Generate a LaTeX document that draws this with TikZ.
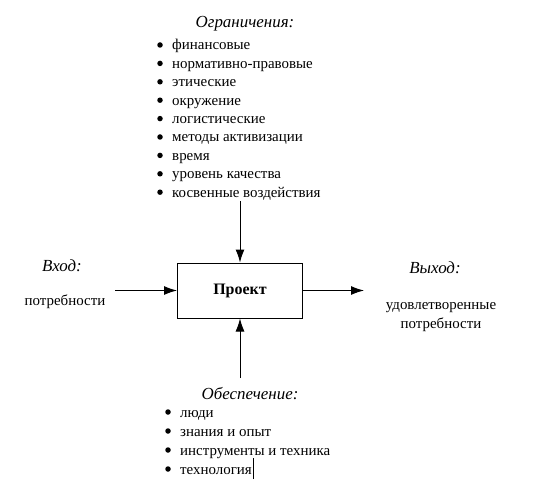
\documentclass[tikz,border=0pt]{standalone}
\usepackage{fontspec}
\setmainfont{Liberation Serif}
\usetikzlibrary{arrows.meta}
\begin{document}
\begin{tikzpicture}[x=1bp,y=-1bp,
  txt/.style={font=\fontsize{15}{17}\selectfont, inner sep=0pt, anchor=base west},
  ttl/.style={font=\fontsize{17}{19}\selectfont\itshape, inner sep=0pt, anchor=base},
  bul/.style={circle, fill, inner sep=0pt, minimum size=5.5bp},
  arr/.style={-{Latex[length=13bp,width=9bp]}, line width=1pt},
  box/.style={draw, line width=1pt, minimum width=125bp, minimum height=55bp, font=\fontsize{16}{18}\selectfont\bfseries}]
\useasboundingbox (0,0) rectangle (534,484);
% title top
\node[ttl] (tOgr) at (245,28) {Ограничения:};
\foreach \t [count=\i] in {финансовые,нормативно-правовые,этические,окружение,логистические,методы активизации,время,уровень качества,косвенные воздействия}{
  \node[bul] (b\i) at (160,{45+18.4*(\i-1)}) {};
  \node[txt] (o\i) at (172,{50+18.4*(\i-1)}) {\t};
}
% box
\node[box] (proj) at (240,290.5) {Проект};
\coordinate (topS) at (240,201);
\draw[arr] (topS) -- (proj.north);
% left
\node[ttl] (vhod) at (62,271) {Вход:};
\node[txt,anchor=base] (potr) at (65,305) {потребности};
\coordinate (inS) at (115,290.5);
\draw[arr] (inS) -- (proj.west);
% right
\node[ttl] (vyhod) at (435,273) {Выход:};
\node[txt,anchor=base] (udov) at (441,309) {удовлетворенные};
\node[txt,anchor=base] (potr2) at (441,328) {потребности};
\coordinate (outE) at (364,290.5);
\draw[arr] (proj.east) -- (outE);
% bottom
\coordinate (botS) at (240,378);
\draw[arr] (botS) -- (proj.south);
\node[ttl] (obes) at (250,399) {Обеспечение:};
\foreach \t [count=\i] in {люди,знания и опыт,инструменты и техника,технология}{
  \node[bul] (c\i) at (168,{412+19*(\i-1)}) {};
  \node[txt] (s\i) at (180,{417+19*(\i-1)}) {\t};
}
\draw[line width=0.8pt] (s4.base east) ++(1,5) coordinate (cur1) -- ++(0,-21) coordinate (cur2);
\end{tikzpicture}
\end{document}
